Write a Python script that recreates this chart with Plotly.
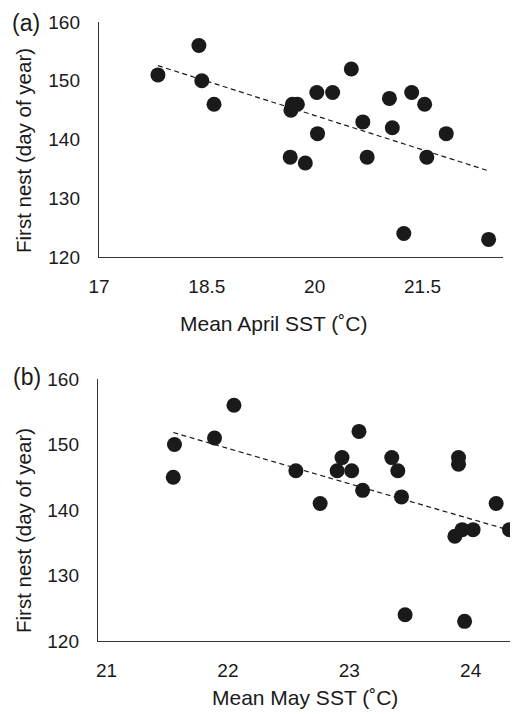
import numpy as np
import plotly.graph_objects as go

# Panel (a): mean April SST vs first nest date
april_sst = [17.82, 18.39, 18.43, 18.60, 19.69, 19.76, 19.67, 20.03, 20.25, 20.51,
             20.67, 20.04, 19.66, 19.87, 20.73, 21.04, 21.08, 21.35, 21.53, 21.83,
             21.56, 21.24, 22.42]
april_nest = [151, 156, 150, 146, 146, 146, 145, 148, 148, 152,
              143, 141, 137, 136, 137, 147, 142, 148, 146, 141,
              137, 124, 123]

# Panel (b): mean May SST vs first nest date
may_sst = [21.56, 21.55, 21.89, 22.05, 22.56, 22.76, 22.90, 22.94, 23.02, 23.08,
           23.11, 23.35, 23.40, 23.43, 23.46, 23.90, 23.90, 23.87, 23.93, 24.02,
           23.95, 24.21, 24.32]
may_nest = [150, 145, 151, 156, 146, 141, 146, 148, 146, 152,
            143, 148, 146, 142, 124, 148, 147, 136, 137, 137,
            123, 141, 137]

y_ticks = [120, 130, 140, 150, 160]
x_ticks_a = [17, 18.5, 20, 21.5]
x_ticks_b = [21, 22, 23, 24]
x_tick_text_a = ["17", "18.5", "20", "21.5"]
x_tick_text_b = ["21", "22", "23", "24"]

FONT = "Liberation Sans, Arial, Helvetica, sans-serif"
INK = "#1a1a1a"
OFF = 8                    # page body margin in the browser
W, H = 518 - OFF, 714 - OFF


def px_x(x):
    return (x - OFF) / W


def px_y(y):
    return 1 - (y - OFF) / H


def trend(x, y):
    x = np.asarray(x, float)
    y = np.asarray(y, float)
    m, b = np.polyfit(x, y, 1)
    xs = np.array([x.min(), x.max()])
    return xs, m * xs + b


fig = go.Figure()

for xs, ys, xa, ya in [(april_sst, april_nest, "x", "y"), (may_sst, may_nest, "x2", "y2")]:
    tx, ty = trend(xs, ys)
    fig.add_trace(go.Scatter(x=tx, y=ty, mode="lines", xaxis=xa, yaxis=ya,
                             line=dict(color=INK, width=1.2, dash="5px,3.5px"),
                             showlegend=False, hoverinfo="skip"))
    fig.add_trace(go.Scatter(x=xs, y=ys, mode="markers", xaxis=xa, yaxis=ya,
                             marker=dict(color=INK, size=15, line=dict(width=0)),
                             showlegend=False))

axis_common = dict(showgrid=False, zeroline=False, showline=True, linecolor="#333333",
                   linewidth=1.4, ticks="", automargin=False,
                   tickfont=dict(family=FONT, size=19, color=INK))

fig.update_layout(
    template="none",
    width=W, height=H,
    margin=dict(l=0, r=0, t=0, b=0, pad=0),
    paper_bgcolor="white", plot_bgcolor="white",
    font=dict(family=FONT, color=INK),
    xaxis=dict(domain=[px_x(99), px_x(503)], range=[17, 22.62], tickvals=x_ticks_a,
               ticktext=x_tick_text_a, anchor="y", ticklabelstandoff=12, **axis_common),
    yaxis=dict(domain=[px_y(257), px_y(22)], range=[120, 160], tickvals=y_ticks,
               anchor="x", ticklabelstandoff=14, **axis_common),
    xaxis2=dict(domain=[px_x(98), 1.0], range=[20.93, 24.39], tickvals=x_ticks_b,
                ticktext=x_tick_text_b, anchor="y2", ticklabelstandoff=12, **axis_common),
    yaxis2=dict(domain=[px_y(641), px_y(379)], range=[120, 160], tickvals=y_ticks,
                anchor="x2", ticklabelstandoff=14, **axis_common),
)


def ann(text, x, y, size, angle=0, yanchor="middle"):
    fig.add_annotation(text=text, x=px_x(x), y=px_y(y), xref="paper", yref="paper",
                       showarrow=False, xanchor="center", yanchor=yanchor,
                       textangle=angle, borderpad=0,
                       font=dict(family=FONT, size=size, color=INK))


ann("Mean April SST (˚C)", 274, 323, 21)
ann("Mean May SST (˚C)", 305, 697, 21)
ann("First nest (day of year)", 24, 151, 20.5, -90)
ann("First nest (day of year)", 23, 531, 20.5, -90)
ann("(a)", 26, 8.5, 23, yanchor="top")
ann("(b)", 27, 377, 23)

fig.write_html("out.html")
